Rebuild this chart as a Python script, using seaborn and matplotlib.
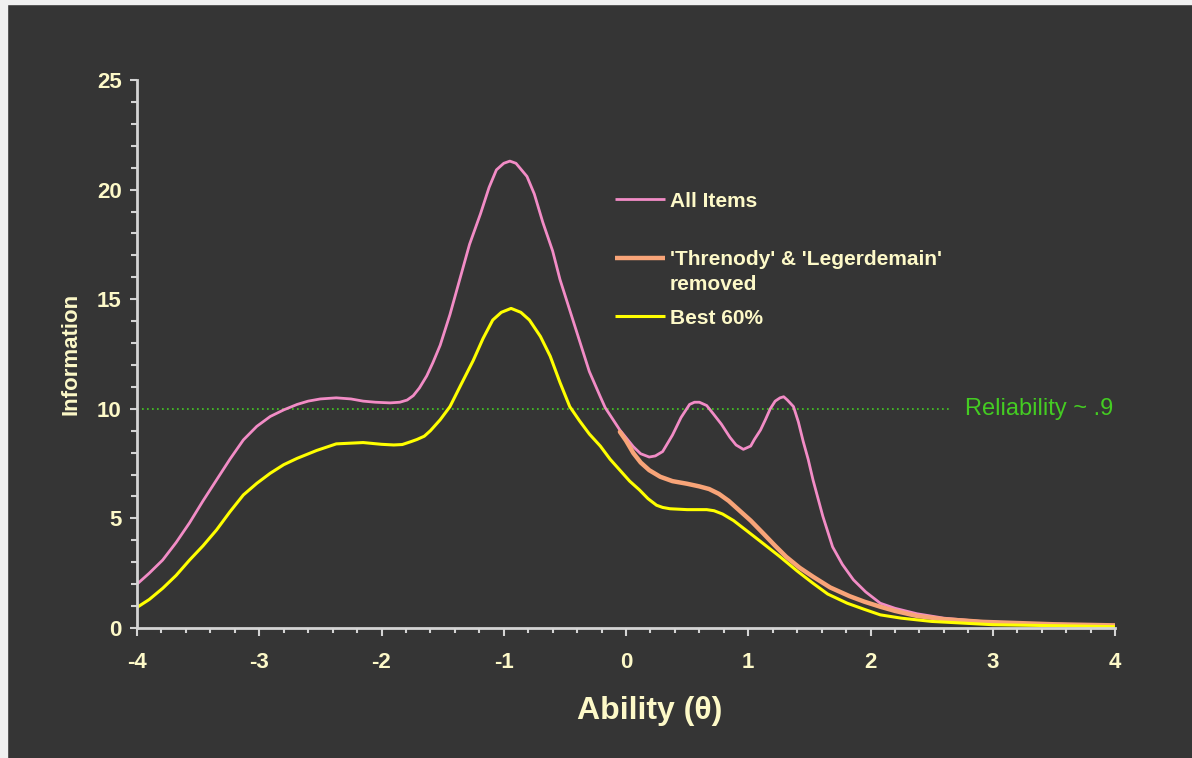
import numpy as np
import pandas as pd
import matplotlib.pyplot as plt
import seaborn as sns
from matplotlib.patches import Rectangle
from matplotlib.ticker import MultipleLocator

# values
theta_all = [-4.0, -3.9, -3.79, -3.68, -3.57, -3.46, -3.35, -3.24, -3.13, -3.02, -2.91, -2.8,
             -2.69, -2.6, -2.5, -2.37, -2.25, -2.15, -2.05, -1.93, -1.85, -1.79, -1.74, -1.69,
             -1.63, -1.58, -1.52, -1.44, -1.36, -1.28, -1.19, -1.12, -1.06, -1.0, -0.95, -0.9,
             -0.81, -0.75, -0.68, -0.6, -0.54, -0.46, -0.38, -0.3, -0.21, -0.17, -0.05, 0.06,
             0.12, 0.19, 0.24, 0.30, 0.38, 0.45, 0.52, 0.56, 0.60, 0.66, 0.71, 0.78, 0.85,
             0.90, 0.96, 1.02, 1.05, 1.10, 1.14, 1.18, 1.22, 1.26, 1.29, 1.32, 1.37, 1.41,
             1.45, 1.49, 1.53, 1.61, 1.69, 1.77, 1.86, 1.96, 2.08, 2.2, 2.38, 2.6, 2.92,
             3.2, 3.5, 4.0]
info_all = [2.0, 2.5, 3.1, 3.9, 4.8, 5.8, 6.75, 7.7, 8.58, 9.2, 9.65, 9.95,
            10.2, 10.35, 10.45, 10.5, 10.45, 10.35, 10.3, 10.27, 10.3, 10.4, 10.6, 10.95,
            11.5, 12.1, 12.9, 14.3, 15.9, 17.5, 18.9, 20.1, 20.9, 21.2, 21.3, 21.2,
            20.6, 19.8, 18.5, 17.2, 15.9, 14.5, 13.1, 11.7, 10.55, 10.05, 9.03, 8.27,
            7.95, 7.8, 7.85, 8.05, 8.8, 9.6, 10.2, 10.3, 10.3, 10.15, 9.8, 9.3, 8.7,
            8.35, 8.15, 8.3, 8.6, 9.03, 9.5, 10.0, 10.35, 10.5, 10.55, 10.4, 10.1, 9.4,
            8.5, 7.7, 6.75, 5.1, 3.7, 2.9, 2.2, 1.65, 1.13, 0.9, 0.65, 0.45, 0.29,
            0.22, 0.18, 0.12]

theta_removed = [-0.05, 0.0, 0.06, 0.12, 0.19, 0.28, 0.38, 0.5, 0.60, 0.68, 0.76, 0.84,
                 0.92, 1.02, 1.12, 1.22, 1.31, 1.42, 1.53, 1.67, 1.83, 1.95, 2.08, 2.2,
                 2.38, 2.6, 2.92, 3.5, 4.0]
info_removed = [8.95, 8.55, 7.98, 7.55, 7.2, 6.9, 6.7, 6.58, 6.46, 6.34, 6.12, 5.8,
                5.4, 4.9, 4.33, 3.75, 3.25, 2.75, 2.34, 1.85, 1.45, 1.2, 0.97, 0.78,
                0.55, 0.4, 0.28, 0.17, 0.12]

theta_best = [-4.0, -3.9, -3.79, -3.68, -3.57, -3.46, -3.35, -3.24, -3.13, -3.02, -2.91, -2.8,
              -2.69, -2.53, -2.37, -2.15, -2.0, -1.9, -1.83, -1.76, -1.71, -1.65, -1.6, -1.52,
              -1.44, -1.35, -1.25, -1.17, -1.09, -1.02, -0.94, -0.86, -0.79, -0.7, -0.62,
              -0.54, -0.46, -0.38, -0.3, -0.21, -0.13, -0.05, 0.03, 0.11, 0.18, 0.25, 0.3,
              0.36, 0.5, 0.66, 0.72, 0.79, 0.88, 0.98, 1.1, 1.26, 1.4, 1.53, 1.65, 1.81,
              1.95, 2.08, 2.25, 2.5, 3.0, 4.0]
info_best = [0.94, 1.3, 1.81, 2.4, 3.1, 3.75, 4.47, 5.3, 6.07, 6.6, 7.06, 7.45,
             7.74, 8.1, 8.4, 8.46, 8.38, 8.35, 8.37, 8.5, 8.6, 8.75, 9.0, 9.5,
             10.1, 11.1, 12.2, 13.2, 14.05, 14.4, 14.58, 14.4, 14.05, 13.3, 12.4,
             11.2, 10.1, 9.45, 8.85, 8.3, 7.7, 7.2, 6.7, 6.3, 5.9, 5.6, 5.5,
             5.44, 5.4, 5.4, 5.35, 5.2, 4.9, 4.47, 3.95, 3.25, 2.6, 2.04, 1.55, 1.13,
             0.85, 0.6, 0.45, 0.3, 0.15, 0.06]

series_names = ["All Items", "'Threnody' & 'Legerdemain'\nremoved", "Best 60%"]
reliability_level = 10.0
reliability_end = 2.65
reliability_label = "Reliability ~ .9"

bg = '#353535'
pale = '#fdf9c8'
axis_col = '#d4d4d4'
pink = '#f28cc6'
orange = '#f8a478'
yellow = '#ffff00'
green = '#44cc22'

sns.set_style('dark', rc={'axes.facecolor': bg, 'figure.facecolor': bg})
plt.rcParams['font.family'] = ['Liberation Sans', 'DejaVu Sans']
plt.rcParams['axes.unicode_minus'] = False

df_all = pd.DataFrame({'theta': theta_all, 'info': info_all})
df_rem = pd.DataFrame({'theta': theta_removed, 'info': info_removed})
df_best = pd.DataFrame({'theta': theta_best, 'info': info_best})

fig = plt.figure(figsize=(11.92, 7.58), dpi=100)
fig.patches.append(Rectangle((0, 0), 7 / 1192, 1, transform=fig.transFigure,
                             color='#f0f0f0', zorder=-1))
fig.patches.append(Rectangle((0, 1 - 4 / 758), 1, 4 / 758, transform=fig.transFigure,
                             color='#f0f0f0', zorder=-1))
ax = fig.add_axes([137 / 1192, 1 - 628 / 758, 978 / 1192, 548 / 758])
ax.set_facecolor('none')

ax.hlines(reliability_level, -4, reliability_end, colors=green, linewidth=1.2,
          linestyles=(0, (1, 2)))
ax.text(reliability_end + 0.12, reliability_level, reliability_label, color=green,
        fontsize=17, va='center', ha='left')

sns.lineplot(data=df_all, x='theta', y='info', color=pink, lw=2, ax=ax)
sns.lineplot(data=df_rem, x='theta', y='info', color=orange, lw=3.2, ax=ax)
sns.lineplot(data=df_best, x='theta', y='info', color=yellow, lw=2.2, ax=ax)

ax.set_xlim(-4, 4)
ax.set_ylim(0, 25)
ax.xaxis.set_major_locator(MultipleLocator(1))
ax.xaxis.set_minor_locator(MultipleLocator(0.2))
ax.yaxis.set_major_locator(MultipleLocator(5))
ax.yaxis.set_minor_locator(MultipleLocator(1))
ax.tick_params(axis='x', which='both', bottom=True)
ax.tick_params(axis='y', which='both', left=True)
ax.tick_params(axis='x', which='major', direction='out', length=5.5, width=1.5,
               color=axis_col, pad=12, labelsize=16, labelcolor=pale)
ax.tick_params(axis='x', which='minor', direction='out', length=3.5, width=1.5,
               color=axis_col)
ax.tick_params(axis='y', which='major', direction='out', length=5, width=1.5,
               color=axis_col, pad=6, labelsize=16, labelcolor=pale)
ax.tick_params(axis='y', which='minor', direction='out', length=4.5, width=1.5,
               color=axis_col)
for lab in ax.get_xticklabels() + ax.get_yticklabels():
    lab.set_fontweight('bold')

for side in ['top', 'right']:
    ax.spines[side].set_visible(False)
for side in ['left', 'bottom']:
    ax.spines[side].set_visible(True)
    ax.spines[side].set_color(axis_col)
    ax.spines[side].set_linewidth(2)
ax.grid(False)

ax.set_xlabel('Ability (θ)', fontsize=23, fontweight='bold', color=pale)
ax.xaxis.set_label_coords(0.5245, -0.124)
ax.set_ylabel('Information', fontsize=16, fontweight='bold', color=pale, labelpad=11)

# legend drawn by hand so the handles sit at even steps
leg_y = [0.7828, 0.6752, 0.5693]
line_step = 25 / 548
for name, col, lw, yy in zip(series_names, [pink, orange, yellow], [2, 3.2, 2.2], leg_y):
    ax.plot([0.4888, 0.5399], [yy, yy], color=col, lw=lw, transform=ax.transAxes,
            solid_capstyle='butt')
    for k, part in enumerate(name.split('\n')):
        ax.text(0.545, yy - k * line_step, part, transform=ax.transAxes, color=pale,
                fontsize=15, fontweight='bold', va='center_baseline', ha='left')

fig.savefig('out.png', dpi=100, facecolor=fig.get_facecolor())
